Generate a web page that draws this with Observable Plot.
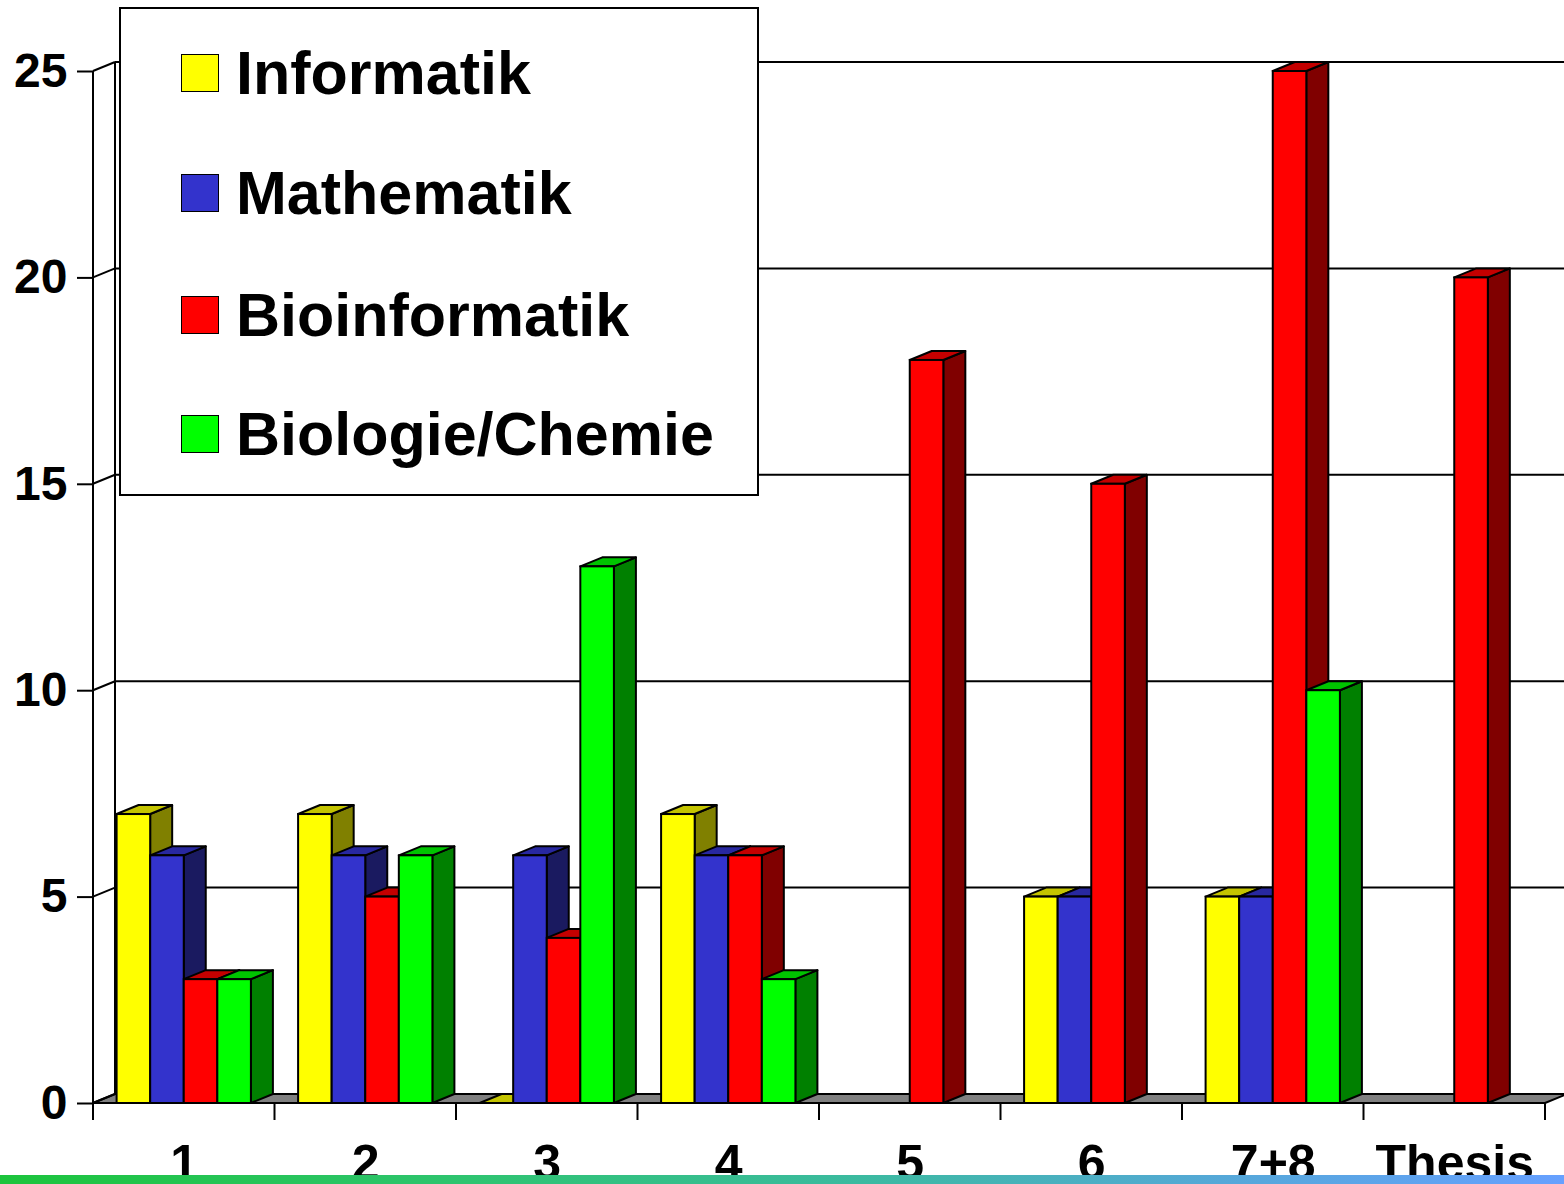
<!DOCTYPE html>
<html>
<head>
<meta charset="utf-8">
<script src="https://cdn.jsdelivr.net/npm/d3@7"></script>
<script src="https://cdn.jsdelivr.net/npm/@observablehq/plot@0.6"></script>
<style>
  html, body { margin: 0; padding: 0; background: #fff; }
  #wrap { position: relative; width: 1564px; height: 1184px; overflow: hidden; font-family: 'Liberation Sans', Arial, sans-serif; }
  #legend { position: absolute; left: 119px; top: 7px; width: 636px; height: 485px; border: 2px solid #000; background: #fff; box-sizing: content-box; }
  .item { position: absolute; left: 60px; height: 40px; display: flex; align-items: center; }
  .sw { width: 36px; height: 36px; border: 1.5px solid #000; margin-right: 17px; flex: none; }
  .lab { font-weight: bold; font-size: 61px; line-height: 1; white-space: nowrap; color: #000; }
  #band { position: absolute; left: 0; top: 1175px; width: 1564px; height: 9px;
          background: linear-gradient(to right, #1cc43c 0%, #2ec470 30%, #3bbaa0 55%, #55a8d8 78%, #66a0ff 100%); }
</style>
</head>
<body>
<div id="wrap"></div>
<script>
// ---- data ----
const categories = ["1", "2", "3", "4", "5", "6", "7+8", "Thesis"];
const seriesNames = ["Informatik", "Mathematik", "Bioinformatik", "Biologie/Chemie"];
const informatik     = [7, 7, 0, 7, null, 5, 5, null];
const mathematik     = [6, 6, 6, 6, null, 5, 5, null];
const bioinformatik  = [3, 5, 4, 6, 18, 15, 25, 20];
const biologieChemie = [3, 6, 13, 3, null, null, 10, null];
const yTicks = [0, 5, 10, 15, 20, 25];

// ---- styling ----
const frontColors = ["#ffff00", "#3333cc", "#ff0000", "#00ff00"];
const topColors   = ["#c4c400", "#2828a0", "#c40000", "#00c400"];
const sideColors  = ["#808000", "#1a1a60", "#800000", "#008000"];
const DX = 22, DY = -9;            // 3D depth offset
const W = 1564, H = 1184;
const mL = 93, mR = 19, mT = 71, mB = 81;
const step = (W - mL - mR) / categories.length;
const groupW = step * 0.74;
const barW = groupW / 4;
const gStart = (step - groupW) / 2;

const seriesValues = [informatik, mathematik, bioinformatik, biologieChemie];
const rows = [];
categories.forEach((c, i) => {
  seriesValues.forEach((vals, j) => {
    if (vals[i] != null) rows.push({cat: c, series: seriesNames[j], j, value: vals[i]});
  });
});

const bw = (x) => (typeof x.bandwidth === "function" ? x.bandwidth() : step);

function background(index, scales, values, dims) {
  const {x, y} = scales;
  const g = d3.create("svg:g").attr("fill", "none").attr("stroke", "#000").attr("stroke-width", 2);
  const x0 = dims.marginLeft, x1 = dims.width - dims.marginRight;
  const yb = y(0);
  for (const v of yTicks.filter(v => v > 0)) {
    g.append("line").attr("x1", x0 + DX).attr("x2", dims.width).attr("y1", y(v) + DY).attr("y2", y(v) + DY);
  }
  g.append("line").attr("x1", x0 + DX).attr("x2", x0 + DX).attr("y1", y(d3.max(yTicks)) + DY).attr("y2", yb + DY);
  g.append("polygon")
    .attr("points", [[x0, yb], [x1, yb], [x1 + DX, yb + DY], [x0 + DX, yb + DY]].map(p => p.join(",")).join(" "))
    .attr("fill", "#808080").attr("stroke-linejoin", "round");
  for (const v of yTicks) {
    g.append("line").attr("x1", x0).attr("x2", x0 + DX).attr("y1", y(v)).attr("y2", y(v) + DY);
  }
  g.append("line").attr("x1", x0).attr("x2", x0).attr("y1", y(d3.max(yTicks))).attr("y2", yb + 17);
  const bounds = categories.map(c => x(c)).concat([x(categories[categories.length - 1]) + bw(x)]);
  for (const b of bounds) {
    g.append("line").attr("x1", b).attr("x2", b).attr("y1", yb).attr("y2", yb + 17);
  }
  return g.node();
}

function faces(kind) {
  return (index, scales, values, dims) => {
    const {x, y} = scales;
    const b = bw(x);
    const s = b / step;
    const g = d3.create("svg:g").attr("stroke", "#000").attr("stroke-width", 2).attr("stroke-linejoin", "round");
    for (const r of rows) {
      const xl = x(r.cat) + (gStart + r.j * barW) * s;
      const xr = xl + barW * s;
      const yt = y(r.value), yb = y(0);
      let pts;
      if (kind === "side") pts = [[xr, yt], [xr + DX, yt + DY], [xr + DX, yb + DY], [xr, yb]];
      else pts = [[xl, yt], [xr, yt], [xr + DX, yt + DY], [xl + DX, yt + DY]];
      g.append("polygon")
        .attr("points", pts.map(p => p.join(",")).join(" "))
        .attr("fill", kind === "side" ? sideColors[r.j] : topColors[r.j]);
    }
    return g.node();
  };
}

const frontMarks = seriesNames.map((name, j) =>
  Plot.barY(rows.filter(r => r.j === j), {
    x: "cat", y: "value",
    fill: frontColors[j], stroke: "#000", strokeWidth: 2,
    insetLeft: gStart + j * barW,
    insetRight: step - gStart - (j + 1) * barW
  })
);

const chart = Plot.plot({
  width: W, height: H,
  marginLeft: mL, marginRight: mR, marginTop: mT, marginBottom: mB,
  style: {fontFamily: "'Liberation Sans', Arial, sans-serif", background: "transparent", overflow: "visible"},
  x: {type: "band", domain: categories, padding: 0, round: false, label: null, axis: null},
  y: {domain: [0, 25], label: null, axis: null},
  marks: [
    background,
    faces("side"),
    faces("top"),
    ...frontMarks,
    Plot.axisY({ticks: yTicks, tickSize: 16, tickPadding: 10, fontSize: 48, fontWeight: "bold", strokeWidth: 2, label: null}),
    Plot.axisX({tickSize: 0, tickPadding: 41, fontSize: 50, fontWeight: "bold", label: null})
  ]
});

const wrap = document.getElementById("wrap");
wrap.appendChild(chart);

const legend = document.createElement("div");
legend.id = "legend";
const legendTops = [44, 164, 286, 405];
seriesNames.forEach((name, j) => {
  const it = document.createElement("div");
  it.className = "item";
  it.style.top = legendTops[j] + "px";
  const sw = document.createElement("div");
  sw.className = "sw";
  sw.style.background = frontColors[j];
  const lab = document.createElement("div");
  lab.className = "lab";
  lab.textContent = name;
  it.appendChild(sw); it.appendChild(lab);
  legend.appendChild(it);
});
wrap.appendChild(legend);

const band = document.createElement("div");
band.id = "band";
wrap.appendChild(band);
</script>
</body>
</html>
